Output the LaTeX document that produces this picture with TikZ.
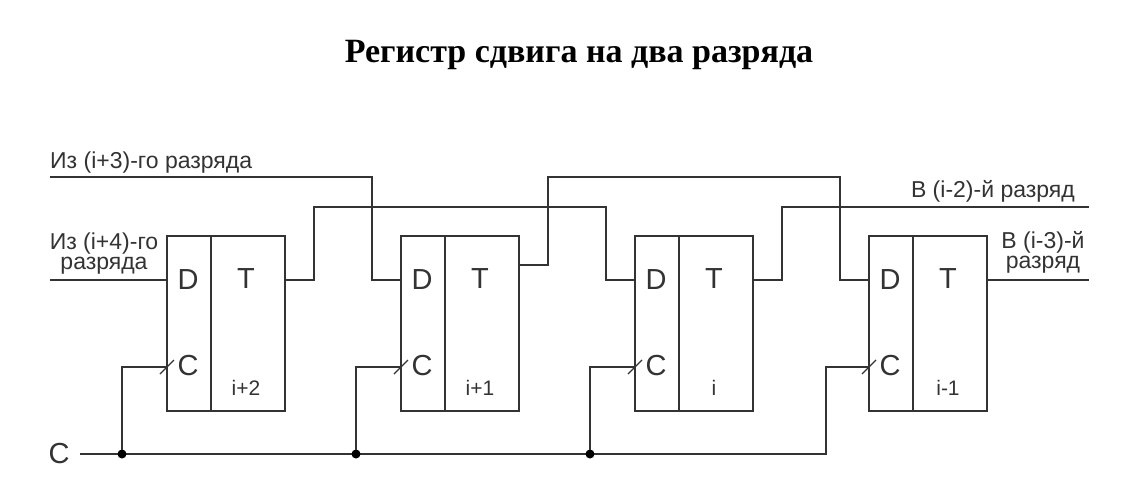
\documentclass[tikz,border=0pt]{standalone}
\usepackage{fontspec}
\setmainfont{Liberation Sans}
\newfontfamily\titlefont{Liberation Serif}
\usetikzlibrary{calc}
\definecolor{ink}{HTML}{333333}
\tikzset{
  x=1pt,y=-1pt,
  wire/.style={draw=ink,line width=1.7pt},
  regbox/.style={draw=ink,line width=1.7pt,minimum width=118pt,minimum height=175pt,inner sep=0pt,outer sep=0pt,anchor=north west},
  big/.style={text=ink,font=\fontsize{29}{29}\selectfont,inner sep=0pt},
  small/.style={text=ink,font=\fontsize{21}{21}\selectfont,inner sep=0pt},
  lab/.style={text=ink,font=\fontsize{23}{20}\selectfont,inner sep=0pt,align=center},
  jdot/.style={circle,fill=black,minimum size=9pt,inner sep=0pt,outer sep=0pt},
}
\newcommand{\regcell}[4]{%
  \node[regbox] (r#1) at (#2,236) {};
  \draw[wire] ($(r#1.north west)+(44,0)$) -- ($(r#1.south west)+(44,0)$);
  \coordinate (d#1) at ($(r#1.north west)+(0,44)$);
  \coordinate (c#1) at ($(r#1.north west)+(0,131)$);
  \coordinate (q#1) at ($(r#1.north east)+(0,#4)$);
  \draw[wire,line width=1.3pt] ($(c#1)+(-7,7)$) -- ($(c#1)+(7,-7)$);
  \node[big] (ld#1) at ($(r#1.north west)+(21,44)$) {D};
  \node[big] (lc#1) at ($(r#1.north west)+(21,130)$) {C};
  \node[big] (lt#1) at ($(r#1.north west)+(79,43)$) {T};
  \node[small] (li#1) at ($(r#1.north west)+(79,152)$) {#3};
}
\begin{document}
\begin{tikzpicture}
\useasboundingbox (0,0) rectangle (1130,480);
\fill[white] (0,0) rectangle (1130,480);
\node[inner sep=0pt,font=\titlefont\bfseries\fontsize{34}{34}\selectfont,text=black] (title) at (579,55) {Регистр сдвига на два разряда};
\regcell{1}{167}{i+2}{44}
\regcell{2}{401}{i+1}{29}
\regcell{3}{635}{i}{44}
\regcell{4}{869}{i-1}{44}
\coordinate (in3) at (50,177);
\coordinate (in4) at (50,280);
\coordinate (out2) at (1089,207);
\coordinate (out3) at (1089,280);
\coordinate (clk) at (80,454);
\draw[wire] (in3) -- (372,177) |- (d2);
\draw[wire] (in4) -- (d1);
\draw[wire] (q1) -- (314,280) |- (606,207) |- (d3);
\draw[wire] (q2) -- (548,265) |- (840,177) |- (d4);
\draw[wire] (q3) -- (782,280) |- (out2);
\draw[wire] (q4) -- (out3);
\draw[wire] (clk) -- (826,454) |- (c4);
\node[jdot] (j1) at (122,454) {};
\node[jdot] (j2) at (356,454) {};
\node[jdot] (j3) at (590,454) {};
\draw[wire] (j1) |- (c1);
\draw[wire] (j2) |- (c2);
\draw[wire] (j3) |- (c3);
\node[big] (clabel) at (59,454) {C};
\node[lab,anchor=west] (l3) at (50,163) {Из (i+3)-го разряда};
\node[lab] (l4) at (104,254) {Из (i+4)-го\\разряда};
\node[lab,anchor=east] (l2) at (1075,191) {В (i-2)-й разряд};
\node[lab] (l5) at (1043,252) {В (i-3)-й\\разряд};
\end{tikzpicture}
\end{document}
